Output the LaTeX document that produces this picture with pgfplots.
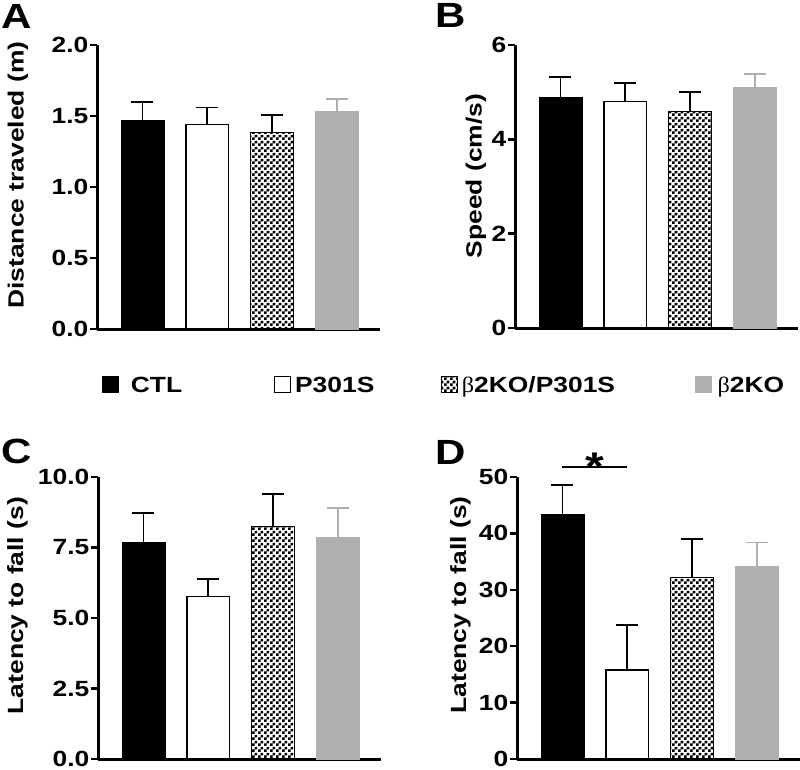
\documentclass[border=0pt]{standalone}
\usepackage{fontspec}
\setmainfont{Liberation Sans}[FakeStretch=1.2]
\newfontfamily\betafont{Liberation Serif}[FakeStretch=1.1]
\usepackage{pgfplots}
\pgfplotsset{compat=1.18}
\usetikzlibrary{patterns}
\pgfdeclarepatternformonly{smallcheck}{\pgfpointorigin}{\pgfqpoint{6pt}{6pt}}{\pgfqpoint{6pt}{6pt}}{%
  \pgfpathrectangle{\pgfpointorigin}{\pgfqpoint{3pt}{3pt}}%
  \pgfpathrectangle{\pgfqpoint{3pt}{3pt}}{\pgfqpoint{3pt}{3pt}}%
  \pgfusepath{fill}}
\definecolor{barGray}{RGB}{176,176,176}
\newcommand\tfont{\fontsize{22}{24}\selectfont\bfseries}
\newcommand\lfont{\fontsize{22}{24}\selectfont\bfseries}
\newcommand\B{{\betafont\mdseries β}}
\pgfplotsset{
  panel/.style={scale only axis, width=283pt, xmin=-0.7, xmax=3.66, ymin=0,
    axis x line*=bottom, axis y line*=left,
    axis line style={-, line width=3pt, black},
    xtick=\empty, tick align=outside, major tick length=7pt,
    ytick style={line width=2.5pt, black},
    tick label style={font=\tfont},
    yticklabel style={inner sep=1.5pt, /pgf/number format/assume math mode=true},
    clip=false, anchor=south west},
  ylab/.style 2 args={every axis y label/.style={at={(axis description cs:#1,#2)}, rotate=90, anchor=center, font=\lfont}},
  sq legend/.style={legend image code/.code={\draw[##1] (0pt,-8pt) rectangle (16pt,8pt);}},
  eb/.style={error bars/.cd, y dir=plus, y explicit,
    error bar style={line width=1.8pt, #1},
    error mark options={rotate=90, mark size=11pt, line width=1.8pt, #1}},
  ctl/.style={ybar, bar width=0.66, bar shift=0pt, fill=black, draw=black, line width=0.6pt, sq legend, eb=black},
  p301/.style={ybar, bar width=0.66, bar shift=0pt, fill=white, draw=black, line width=1.3pt, sq legend, eb=black},
  dko/.style={ybar, bar width=0.66, bar shift=0pt, pattern=smallcheck, pattern color=black, draw=black, line width=0.8pt, sq legend, eb=black},
  ko/.style={ybar, bar width=0.66, bar shift=0pt, fill=barGray, draw=barGray, line width=0.6pt, sq legend, eb=barGray},
}
\begin{document}
\begin{tikzpicture}
\useasboundingbox (0,0) rectangle (800pt,-770pt);
% Panel A
\begin{axis}[panel, height=284pt, at={(97pt,-329pt)}, ymax=2.0,
  ytick={0,0.5,1.0,1.5,2.0},
  yticklabel style={/pgf/number format/.cd, fixed, fixed zerofill, precision=1},
  ylabel={Distance traveled (m)}, ylab={-0.279}{0.542},
  legend columns=4,
  legend style={at={(rel axis cs:0.0177,-0.195)}, anchor=west, draw=none, fill=none,
    inner sep=0pt, column sep=0pt, font=\lfont,
    nodes={inner sep=0pt, text height=15.8pt, text depth=0pt}},
]
\addplot[ctl] coordinates {(0,1.47) +- (0,0.13)};
\addlegendentry{\makebox[155pt][l]{\hspace{12pt}CTL}}
\addplot[p301] coordinates {(1,1.44) +- (0,0.12)};
\addlegendentry{\makebox[150pt][l]{\hspace{4pt}P301S}}
\addplot[dko] coordinates {(2,1.385) +- (0,0.122)};
\addlegendentry{\makebox[237pt][l]{\hspace{4pt}\B2KO/P301S}}
\addplot[ko] coordinates {(3,1.53) +- (0,0.09)};
\addlegendentry{\makebox[90pt][l]{\hspace{6pt}\B2KO}}
\end{axis}
% Panel B
\begin{axis}[panel, height=283pt, at={(515pt,-328pt)}, ymax=6,
  ytick={0,2,4,6},
  ylabel={Speed (cm/s)}, ylab={-0.138}{0.537},
]
\addplot[ctl] coordinates {(0,4.90) +- (0,0.43)};
\addplot[p301] coordinates {(1,4.80) +- (0,0.40)};
\addplot[dko] coordinates {(2,4.60) +- (0,0.41)};
\addplot[ko] coordinates {(3,5.10) +- (0,0.29)};
\end{axis}
% Panel C
\begin{axis}[panel, height=282pt, at={(98pt,-759pt)}, ymax=10,
  ytick={0,2.5,5,7.5,10},
  yticklabel style={/pgf/number format/.cd, fixed, fixed zerofill, precision=1},
  ylabel={Latency to fall (s)}, ylab={-0.285}{0.544},
]
\addplot[ctl] coordinates {(0,7.68) +- (0,1.03)};
\addplot[p301] coordinates {(1,5.76) +- (0,0.61)};
\addplot[dko] coordinates {(2,8.26) +- (0,1.14)};
\addplot[ko] coordinates {(3,7.86) +- (0,1.04)};
\end{axis}
% Panel D
\begin{axis}[panel, height=282pt, at={(517pt,-759pt)}, ymax=50,
  ytick={0,10,...,50},
  ylabel={Latency to fall (s)}, ylab={-0.2}{0.546},
]
\addplot[ctl] coordinates {(0,43.4) +- (0,5.2)};
\addplot[p301] coordinates {(1,15.8) +- (0,7.9)};
\addplot[dko] coordinates {(2,32.2) +- (0,6.8)};
\addplot[ko] coordinates {(3,34.1) +- (0,4.3)};
\draw[line width=2pt] (axis cs:0,51.7) -- (axis cs:1,51.7);
\node[anchor=base, font=\fontsize{40}{40}\selectfont\bfseries, inner sep=0pt] at (axis cs:0.5,49.4) {*};
\end{axis}
% Panel letters
\node[font=\fontsize{35}{35}\selectfont\bfseries, inner sep=0pt] at (17pt,-16pt) {A};
\node[font=\fontsize{35}{35}\selectfont\bfseries, inner sep=0pt] at (451pt,-15pt) {B};
\node[font=\fontsize{35}{35}\selectfont\bfseries, inner sep=0pt] at (17pt,-451pt) {C};
\node[font=\fontsize{35}{35}\selectfont\bfseries, inner sep=0pt] at (451pt,-452pt) {D};
\end{tikzpicture}
\end{document}
